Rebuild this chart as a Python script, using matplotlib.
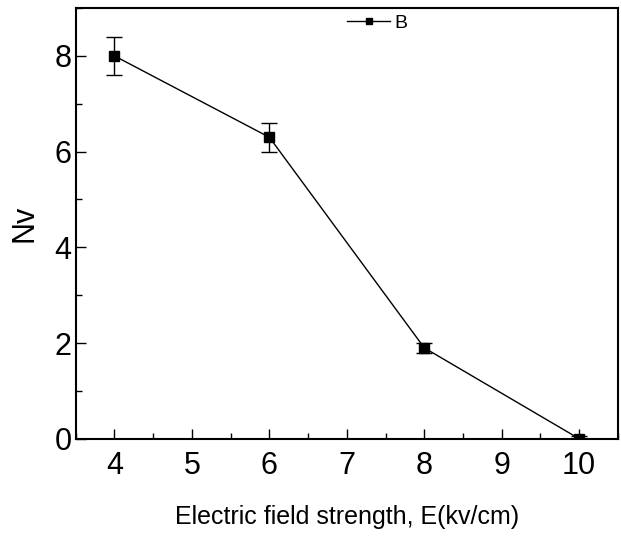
import matplotlib
matplotlib.use("Agg")
import matplotlib.pyplot as plt
from matplotlib.ticker import MultipleLocator
from matplotlib.lines import Line2D

field = [4, 6, 8, 10]
nv = [8.0, 6.3, 1.9, 0.0]
nv_err = [0.4, 0.3, 0.1, 0.05]

plt.rcParams['font.family'] = ['Liberation Sans', 'DejaVu Sans']

fig = plt.figure(figsize=(6.21, 5.39), dpi=100)
ax = fig.add_axes([0.122, 0.186, 0.873, 0.799])

ax.errorbar(field, nv, yerr=nv_err, color='black', lw=1, marker='s', ms=7,
            capsize=6, elinewidth=1, capthick=1)

ax.set_xlim(3.5, 10.5)
ax.set_ylim(0, 9)
ax.xaxis.set_major_locator(MultipleLocator(1))
ax.xaxis.set_minor_locator(MultipleLocator(0.5))
ax.yaxis.set_major_locator(MultipleLocator(2))
ax.yaxis.set_minor_locator(MultipleLocator(1))
ax.tick_params(which='both', direction='in', top=False, right=False, labelsize=22, width=1)
ax.tick_params(which='major', length=7)
ax.tick_params(axis='x', which='major', pad=9)
ax.tick_params(axis='y', which='major', pad=3)
ax.tick_params(which='minor', length=4)
for s in ax.spines.values():
    s.set_linewidth(1.5)

ax.set_xlabel('Electric field strength, E(kv/cm)', fontsize=18, labelpad=17)
ax.set_ylabel('Nv', fontsize=22, labelpad=11)

handle = Line2D([], [], color='black', lw=1, marker='s', ms=5)
ax.legend([handle], ['B'], loc='upper left', bbox_to_anchor=(0.49, 1.0),
          frameon=False, fontsize=14, handlelength=2.2,
          borderaxespad=0.1, handletextpad=0.2, borderpad=0.2)

fig.savefig('out.png', dpi=100)
